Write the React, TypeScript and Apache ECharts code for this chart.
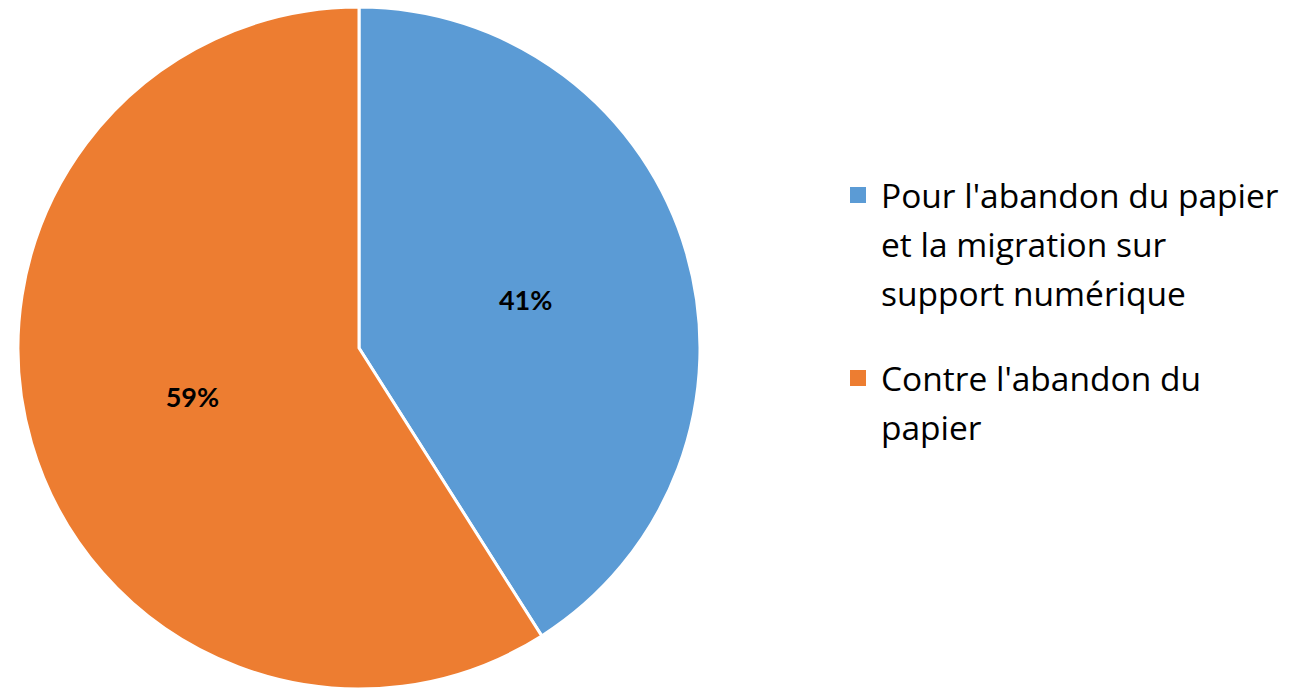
import React, { useEffect, useRef } from "react";
import * as echarts from "echarts";

const categories = [
  "Pour l'abandon du papier et la migration sur support numérique",
  "Contre l'abandon du papier",
];
const legendLines = [
  ["Pour l'abandon du papier", "et la migration sur", "support numérique"],
  ["Contre l'abandon du", "papier"],
];
const values = [41, 59];
const colors = ["#5B9BD5", "#ED7D31"];

const LEGEND_FONT = "'Open Sans', 'Noto Sans', sans-serif";
const LABEL_FONT = "Lato, 'Noto Sans', sans-serif";

export default function App() {
  const ref = useRef<HTMLDivElement>(null);
  useEffect(() => {
    if (!ref.current) return;
    const chart = echarts.init(ref.current, undefined, { renderer: "svg" });
    const lineH = 49;
    const legendTop = [187, 370];
    const graphic: any[] = [];
    legendLines.forEach((lines, i) => {
      graphic.push({
        type: "rect",
        shape: { x: 842, y: legendTop[i] - 8, width: 16, height: 16 },
        style: { fill: colors[i] },
      });
      lines.forEach((ln, j) => {
        graphic.push({
          type: "text",
          x: 873,
          y: legendTop[i] + j * lineH,
          style: {
            text: ln,
            font: `33.5px ${LEGEND_FONT}`,
            fill: "#000",
            verticalAlign: "middle",
            textAlign: "left",
          },
        });
      });
    });
    chart.setOption({
      animation: false,
      backgroundColor: "#fff",
      graphic,
      series: [
        {
          type: "pie",
          center: [351, 340],
          radius: 341,
          startAngle: 90,
          clockwise: true,
          data: categories.map((c, i) => ({
            name: c,
            value: values[i],
            itemStyle: { color: colors[i] },
          })),
          itemStyle: { borderColor: "#fff", borderWidth: 3 },
          label: {
            show: true,
            position: "inside",
            formatter: "{c}%",
            color: "#000",
            fontWeight: "bold",
            fontSize: 27,
            fontFamily: LABEL_FONT,
          },
          labelLine: { show: false },
          emphasis: { disabled: true },
        },
      ],
    });
    return () => chart.dispose();
  }, []);
  return <div ref={ref} style={{ width: 1286, height: 681 }} />;
}
